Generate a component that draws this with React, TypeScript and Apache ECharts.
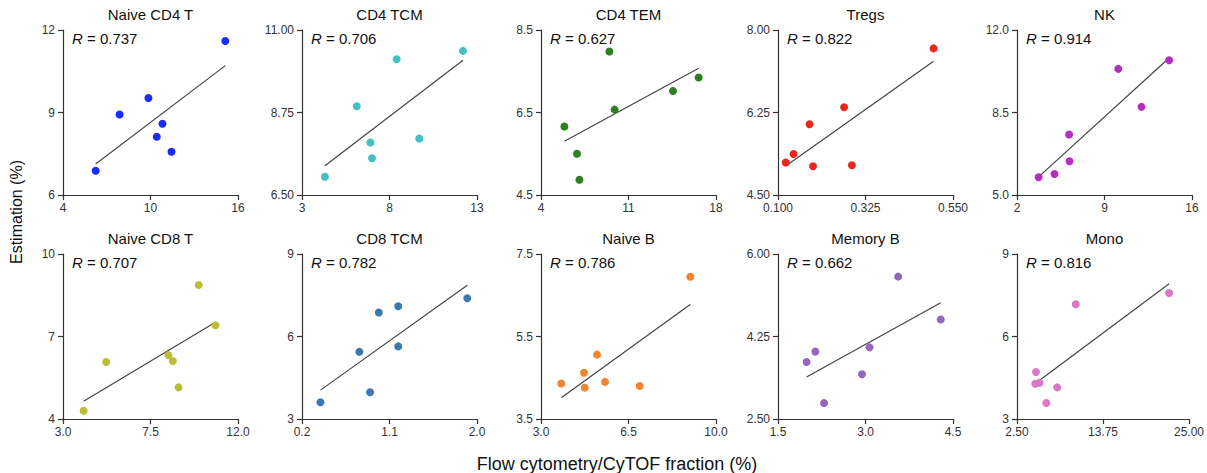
import React, { useEffect, useRef } from "react";
import * as echarts from "echarts";

// Cell populations, one panel each (top row then bottom row)
const panelNames = [
  "Naive CD4 T", "CD4 TCM", "CD4 TEM", "Tregs", "NK",
  "Naive CD8 T", "CD8 TCM", "Naive B", "Memory B", "Mono",
];
const rValues = ["0.737", "0.706", "0.627", "0.822", "0.914", "0.707", "0.782", "0.786", "0.662", "0.816"];
const colors = [
  "#1a2bff", "#45c0c0", "#2d7f22", "#e8281e", "#b22fc1",
  "#bcbd35", "#3a78b2", "#ef8631", "#9566be", "#da78c7",
];

// Flow cytometry / CyTOF fraction (x) and estimated fraction (y), in %
const naiveCD4T_x = [15.13, 9.86, 7.88, 10.82, 10.43, 11.44, 6.24];
const naiveCD4T_y = [11.6, 9.53, 8.93, 8.59, 8.12, 7.57, 6.88];
const cd4TCM_x = [12.2, 8.41, 6.13, 9.7, 6.91, 7.0, 4.31];
const cd4TCM_y = [10.43, 10.2, 8.92, 8.04, 7.93, 7.5, 7.0];
const cd4TEM_x = [9.47, 16.61, 14.56, 9.89, 5.87, 6.88, 7.07];
const cd4TEM_y = [7.98, 7.35, 7.02, 6.57, 6.16, 5.5, 4.87];
const tregs_x = [0.5, 0.27, 0.181, 0.14, 0.12, 0.19, 0.29];
const tregs_y = [7.61, 6.36, 6.0, 5.37, 5.19, 5.11, 5.13];
const nk_x = [14.17, 10.1, 11.96, 6.17, 6.2, 5.0, 3.73];
const nk_y = [10.72, 10.35, 8.74, 7.57, 6.43, 5.89, 5.75];
const naiveCD8T_x = [9.98, 10.84, 8.42, 8.65, 5.22, 8.94, 4.06];
const naiveCD8T_y = [8.87, 7.41, 6.32, 6.11, 6.07, 5.15, 4.3];
const cd8TCM_x = [1.9, 1.19, 0.99, 0.79, 1.19, 0.9, 0.39];
const cd8TCM_y = [7.39, 7.1, 6.87, 5.44, 5.64, 3.97, 3.61];
const naiveB_x = [8.97, 5.24, 4.72, 5.56, 3.81, 4.75, 6.95];
const naiveB_y = [6.95, 5.06, 4.62, 4.4, 4.36, 4.26, 4.3];
const memoryB_x = [3.56, 4.29, 3.07, 2.14, 1.99, 2.94, 2.29];
const memoryB_y = [5.52, 4.61, 4.02, 3.93, 3.71, 3.45, 2.84];
const mono_x = [22.4, 10.19, 4.98, 4.89, 5.45, 7.75, 6.34];
const mono_y = [7.58, 7.17, 4.71, 4.28, 4.32, 4.15, 3.58];

const xValues = [naiveCD4T_x, cd4TCM_x, cd4TEM_x, tregs_x, nk_x, naiveCD8T_x, cd8TCM_x, naiveB_x, memoryB_x, mono_x];
const yValues = [naiveCD4T_y, cd4TCM_y, cd4TEM_y, tregs_y, nk_y, naiveCD8T_y, cd8TCM_y, naiveB_y, memoryB_y, mono_y];

// Tick values and label decimals per panel
const xTicks = [
  [4, 10, 16], [3, 8, 13], [4, 11, 18], [0.1, 0.325, 0.55], [2, 9, 16],
  [3, 7.5, 12], [0.2, 1.1, 2.0], [3, 6.5, 10], [1.5, 3, 4.5], [2.5, 13.75, 25],
];
const xDecimals = [0, 0, 0, 3, 0, 1, 1, 1, 1, 2];
const yTicks = [
  [6, 9, 12], [6.5, 8.75, 11], [4.5, 6.5, 8.5], [4.5, 6.25, 8], [5, 8.5, 12],
  [4, 7, 10], [3, 6, 9], [3.5, 5.5, 7.5], [2.5, 4.25, 6], [3, 6, 9],
];
const yDecimals = [0, 2, 1, 2, 1, 0, 0, 1, 2, 0];

const xAxisTitle = "Flow cytometry/CyTOF fraction (%)";
const yAxisTitle = "Estimation (%)";

const FONT = "Liberation Sans, Arial, Helvetica, sans-serif";
const lefts = [63, 302, 541, 778, 1017];
const tops = [30, 254];
const PW = 175;
const PH = 165;

function fitLine(xs: number[], ys: number[]): number[][] {
  const n = xs.length;
  const mx = xs.reduce((a, b) => a + b, 0) / n;
  const my = ys.reduce((a, b) => a + b, 0) / n;
  let sxy = 0;
  let sxx = 0;
  for (let i = 0; i < n; i++) {
    sxy += (xs[i] - mx) * (ys[i] - my);
    sxx += (xs[i] - mx) * (xs[i] - mx);
  }
  const b = sxy / sxx;
  const a = my - b * mx;
  const x0 = Math.min(...xs);
  const x1 = Math.max(...xs);
  return [[x0, a + b * x0], [x1, a + b * x1]];
}

function buildOption() {
  const grid: any[] = [];
  const xAxis: any[] = [];
  const yAxis: any[] = [];
  const series: any[] = [];
  const title: any[] = [];
  const axisLineStyle = { color: "#333", width: 1.2 };

  for (let i = 0; i < panelNames.length; i++) {
    const left = lefts[i % 5];
    const top = tops[Math.floor(i / 5)];
    grid.push({ left, top, width: PW, height: PH, containLabel: false });
    const xt = xTicks[i];
    const yt = yTicks[i];
    xAxis.push({
      type: "value",
      gridIndex: i,
      min: xt[0],
      max: xt[xt.length - 1],
      splitLine: { show: false },
      axisLine: { show: true, onZero: false, lineStyle: axisLineStyle },
      axisTick: { show: true, length: 5, customValues: xt, lineStyle: axisLineStyle },
      axisLabel: {
        customValues: xt,
        margin: 7,
        color: "#333",
        fontSize: 12,
        fontFamily: FONT,
        formatter: (v: number) => v.toFixed(xDecimals[i]),
      },
    });
    yAxis.push({
      type: "value",
      gridIndex: i,
      min: yt[0],
      max: yt[yt.length - 1],
      splitLine: { show: false },
      axisLine: { show: true, onZero: false, lineStyle: axisLineStyle },
      axisTick: { show: true, length: 5, customValues: yt, lineStyle: axisLineStyle },
      axisLabel: {
        customValues: yt,
        margin: 8,
        color: "#333",
        fontSize: 12,
        fontFamily: FONT,
        formatter: (v: number) => v.toFixed(yDecimals[i]),
      },
    });
    const pts = xValues[i].map((x, k) => [x, yValues[i][k]]);
    series.push({
      type: "line",
      xAxisIndex: i,
      yAxisIndex: i,
      data: fitLine(xValues[i], yValues[i]),
      showSymbol: false,
      symbol: "none",
      lineStyle: { color: "#444", width: 1.2 },
      z: 2,
      silent: true,
    });
    series.push({
      type: "scatter",
      xAxisIndex: i,
      yAxisIndex: i,
      data: pts,
      symbol: "circle",
      symbolSize: 8,
      itemStyle: { color: colors[i], opacity: 1 },
      z: 3,
    });
    title.push({
      text: panelNames[i],
      left: left + PW / 2,
      top: top - 23,
      textAlign: "center",
      padding: 0,
      textStyle: { fontSize: 15, fontWeight: "normal", color: "#111", fontFamily: FONT },
    });
    title.push({
      text: "{i|R} = " + rValues[i],
      left: left + 9,
      top: top + 1,
      padding: 0,
      textStyle: {
        fontSize: 15,
        fontWeight: "normal",
        color: "#111",
        fontFamily: FONT,
        rich: {
          i: { fontStyle: "italic", fontSize: 15, color: "#111", fontFamily: FONT },
        },
      },
    });
  }

  return {
    animation: false,
    backgroundColor: "#fff",
    grid,
    xAxis,
    yAxis,
    series,
    title,
    graphic: [
      {
        type: "text",
        x: 617,
        y: 464,
        style: {
          text: xAxisTitle,
          fontSize: 18,
          fontFamily: FONT,
          fill: "#111",
          align: "center",
          verticalAlign: "middle",
        },
      },
      {
        type: "text",
        x: 16,
        y: 212,
        rotation: Math.PI / 2,
        style: {
          text: yAxisTitle,
          fontSize: 16,
          fontFamily: FONT,
          fill: "#111",
          align: "center",
          verticalAlign: "middle",
        },
      },
    ],
  };
}

export default function App() {
  const ref = useRef<HTMLDivElement>(null);
  useEffect(() => {
    if (!ref.current) return;
    const chart = echarts.init(ref.current, undefined, { renderer: "svg" });
    chart.setOption(buildOption());
    return () => chart.dispose();
  }, []);
  return (
    <div
      ref={ref}
      style={{ position: "absolute", left: 0, top: 0, width: 1207, height: 473 }}
    />
  );
}
